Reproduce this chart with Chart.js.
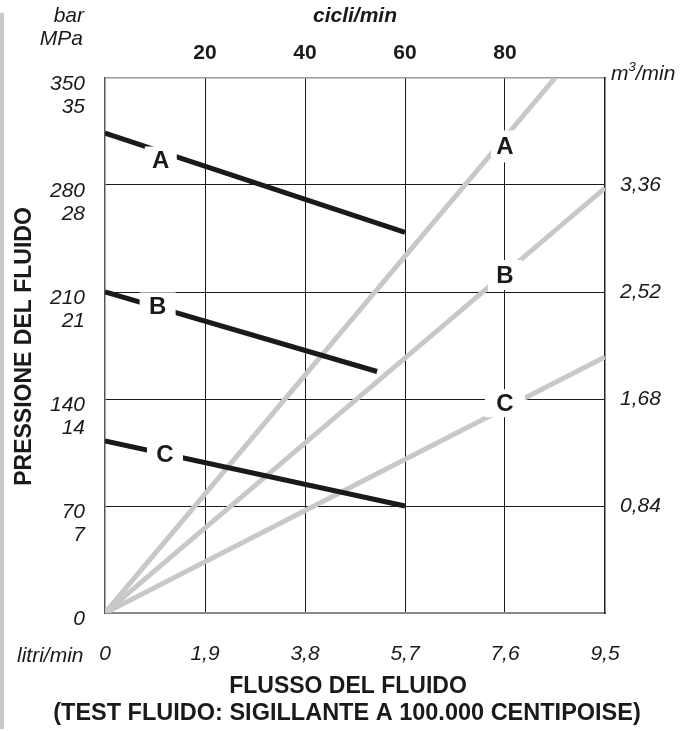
<!DOCTYPE html>
<html>
<head>
<meta charset="utf-8">
<script src="https://cdn.jsdelivr.net/npm/chart.js@4/dist/chart.umd.min.js"></script>
<style>
  html, body { margin: 0; padding: 0; background: #fff; }
  canvas { display: block; }
</style>
</head>
<body>
<canvas id="content" width="687" height="731"></canvas>
<script>
// axis ticks
var flowTicks = [0, 1.9, 3.8, 5.7, 7.6, 9.5];        // litri/min
var cycleTicks = [20, 40, 60, 80];                  // cicli/min
var barTicks = [0, 70, 140, 210, 280, 350];         // bar
var mpaTicks = [0, 7, 14, 21, 28, 35];              // MPa
var m3Ticks = [0.84, 1.68, 2.52, 3.36];             // m3/min

// pressure curves (black)
var curveNames = ["A", "B", "C"];
var pressA_flow = [0, 5.7];
var pressA_bar = [314, 249];
var pressB_flow = [0, 5.17];
var pressB_bar = [210, 158];
var pressC_flow = [0, 5.7];
var pressC_bar = [112.5, 70];

// flow curves (grey)
var flowA_flow = [0, 8.55];
var flowA_bar = [0, 350];
var flowB_flow = [0, 9.5];
var flowB_bar = [0, 278];
var flowC_flow = [0, 9.5];
var flowC_bar = [0, 167.5];

var FONT = '"Liberation Sans", Arial, Helvetica, sans-serif';
var INK = "#1a1a1a";
var GREY = "#c8c8c8";

function pts(xs, ys) {
  return xs.map(function (x, i) { return { x: x, y: ys[i] }; });
}
function comma(v, d) {
  return v === 0 ? "0" : v.toFixed(d).replace(".", ",");
}
function line(label, xs, ys, color) {
  return {
    label: label,
    data: pts(xs, ys),
    borderColor: color,
    borderWidth: 5,
    borderCapStyle: "butt",
    pointRadius: 0,
    tension: 0,
    fill: false
  };
}

var datasets = [
  line(curveNames[0], pressA_flow, pressA_bar, INK),
  line(curveNames[1], pressB_flow, pressB_bar, INK),
  line(curveNames[2], pressC_flow, pressC_bar, INK),
  line(curveNames[0], flowA_flow, flowA_bar, GREY),
  line(curveNames[1], flowB_flow, flowB_bar, GREY),
  line(curveNames[2], flowC_flow, flowC_bar, GREY)
];

// where the letters sit on each curve (dataset index, flow value, nudges)
var tags = [
  { ds: 0, at: 1.06, dx: 0, dy: 9, w: 32, h: 28 },
  { ds: 1, at: 1.0, dx: 0, dy: -1, w: 36, h: 28 },
  { ds: 2, at: 1.14, dx: 0, dy: 0, w: 36, h: 28 },
  { ds: 3, at: 7.6, dx: 0, dy: 9, w: 28, h: 32 },
  { ds: 4, at: 7.6, dx: 0, dy: 2, w: 34, h: 30 },
  { ds: 5, at: 7.6, dx: 0, dy: -5, w: 40, h: 28 }
];

var curveTags = {
  id: "curveTags",
  afterDatasetsDraw: function (chart) {
    var ctx = chart.ctx;
    var xs = chart.scales.x, ys = chart.scales.y;
    ctx.save();
    ctx.font = "bold 24px " + FONT;
    ctx.textAlign = "center";
    ctx.textBaseline = "middle";
    tags.forEach(function (t) {
      var ds = chart.data.datasets[t.ds];
      var p0 = ds.data[0], p1 = ds.data[ds.data.length - 1];
      var v = p0.y + (p1.y - p0.y) * (t.at - p0.x) / (p1.x - p0.x);
      var px = xs.getPixelForValue(t.at) + t.dx;
      var py = ys.getPixelForValue(v) + t.dy;
      ctx.fillStyle = "#fff";
      ctx.fillRect(px - t.w / 2, py - t.h / 2, t.w, t.h);
      ctx.fillStyle = INK;
      ctx.fillText(ds.label, px, py + 1);
    });
    ctx.restore();
  }
};

// unit captions and axis titles
var captions = {
  id: "captions",
  beforeDraw: function (chart) {
    var ctx = chart.ctx;
    ctx.save();
    ctx.fillStyle = GREY;
    ctx.fillRect(0, 13, 4, 716);
    ctx.restore();
  },
  afterDraw: function (chart) {
    var ctx = chart.ctx, a = chart.chartArea;
    var mid = (a.left + a.right) / 2;
    ctx.save();
    ctx.fillStyle = INK;
    ctx.textBaseline = "alphabetic";

    ctx.font = "italic 21px " + FONT;
    ctx.textAlign = "right";
    ctx.fillText("bar", a.left - 21, 22);
    ctx.fillText("MPa", a.left - 22, 45);

    ctx.textAlign = "left";
    ctx.fillText("litri/min", 17, 662);
    ctx.fillText("m", a.right + 6, 80);
    var mw = ctx.measureText("m").width;
    ctx.font = "italic 13px " + FONT;
    ctx.fillText("3", a.right + 6 + mw, 71);
    var sw = ctx.measureText("3").width;
    ctx.font = "italic 21px " + FONT;
    ctx.fillText("/min", a.right + 6 + mw + sw, 80);

    ctx.font = "bold italic 21px " + FONT;
    ctx.textAlign = "center";
    ctx.fillText("cicli/min", mid, 22);

    ctx.font = "bold 23px " + FONT;
    ctx.fillText("FLUSSO DEL FLUIDO", mid - 7, 693);
    ctx.font = "bold 23.5px " + FONT;
    ctx.fillText("(TEST FLUIDO: SIGILLANTE A 100.000 CENTIPOISE)", mid - 8, 720);

    ctx.font = "bold 23px " + FONT;
    ctx.translate(31, (a.top + a.bottom) / 2 + 1);
    ctx.rotate(-Math.PI / 2);
    ctx.fillText("PRESSIONE DEL FLUIDO", 0, 0);
    ctx.restore();
  }
};

function fixed(size) {
  return function (scale) {
    if (scale.isHorizontal()) scale.height = size;
    else scale.width = size;
  };
}
function useTicks(list) {
  return function (scale) {
    scale.ticks = list.map(function (v) { return { value: v }; });
  };
}
function gridAt(ends, color) {
  return function (c) {
    return ends.indexOf(c.tick.value) >= 0 ? "rgba(0,0,0,0)" : color;
  };
}

new Chart("content", {
  type: "line",
  data: { datasets: datasets },
  plugins: [curveTags, captions],
  options: {
    responsive: false,
    animation: false,
    layout: { padding: 0 },
    plugins: { legend: { display: false }, tooltip: { enabled: false } },
    scales: {
      x: {
        type: "linear", position: "bottom", min: 0, max: 9.5,
        afterBuildTicks: useTicks(flowTicks),
        afterFit: fixed(118),
        grid: { drawTicks: false, color: gridAt([0, 9.5], INK), lineWidth: 1 },
        border: { color: "#8a8a8a", width: 2 },
        ticks: {
          padding: 29, color: INK, maxRotation: 0, autoSkip: false,
          font: { family: FONT, size: 21, style: "italic" },
          callback: function (v) { return comma(v, 1); }
        }
      },
      x2: {
        type: "linear", position: "top", min: 0, max: 100,
        afterBuildTicks: useTicks(cycleTicks),
        afterFit: fixed(78),
        grid: { display: false, drawTicks: false },
        border: { color: "#9a9a9a", width: 1.5 },
        ticks: {
          padding: 12, color: INK, maxRotation: 0, autoSkip: false,
          font: { family: FONT, size: 21, weight: "bold" }
        }
      },
      y: {
        type: "linear", position: "left", min: 0, max: 350,
        afterBuildTicks: useTicks(barTicks),
        afterFit: fixed(105),
        grid: { drawTicks: false, color: gridAt([0, 350], INK), lineWidth: 1 },
        border: { color: "#555", width: 1.5 },
        ticks: {
          padding: 20, color: INK, labelOffset: 18, autoSkip: false,
          font: { family: FONT, size: 21, style: "italic", lineHeight: 1.1 },
          callback: function (v, i) { return [String(v), v === 0 ? "" : String(mpaTicks[i])]; }
        }
      },
      y2: {
        type: "linear", position: "right", min: 0, max: 4.2,
        afterBuildTicks: useTicks(m3Ticks),
        afterFit: fixed(82),
        grid: { display: false, drawTicks: false },
        border: { color: "#222", width: 1.5 },
        ticks: {
          padding: 15, color: INK, autoSkip: false,
          font: { family: FONT, size: 21, style: "italic" },
          callback: function (v) { return comma(v, 2); }
        }
      }
    }
  }
});
</script>
</body>
</html>
